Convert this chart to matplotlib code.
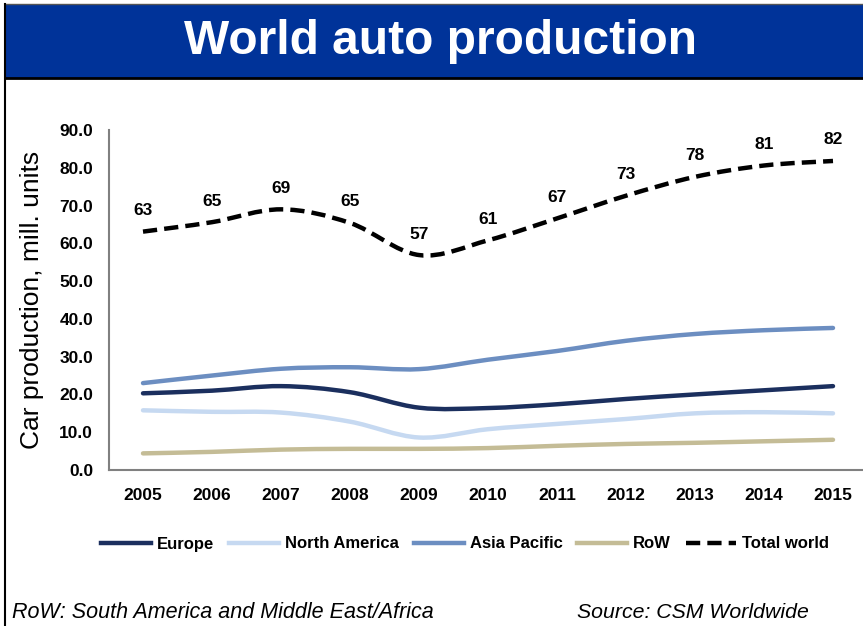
import matplotlib
matplotlib.use("Agg")
import matplotlib.pyplot as plt
from matplotlib.path import Path
from matplotlib.patches import PathPatch, Rectangle
from matplotlib.lines import Line2D

plt.rcParams['font.family'] = ['Liberation Sans', 'DejaVu Sans']

years = ["2005", "2006", "2007", "2008", "2009", "2010", "2011", "2012", "2013", "2014", "2015"]
europe = [20.3, 21.0, 22.2, 20.6, 16.5, 16.4, 17.4, 18.8, 20.0, 21.1, 22.2]
north_america = [15.8, 15.4, 15.2, 12.8, 8.6, 10.8, 12.2, 13.5, 15.0, 15.3, 15.0]
asia_pacific = [23.0, 25.0, 26.8, 27.2, 26.7, 29.2, 31.5, 34.2, 36.0, 37.0, 37.6]
row = [4.4, 4.8, 5.4, 5.6, 5.6, 5.8, 6.4, 6.9, 7.2, 7.6, 8.0]
total = [63.1, 65.6, 69.0, 65.4, 56.9, 60.8, 66.6, 72.6, 77.6, 80.6, 81.8]
total_labels = ["63", "65", "69", "65", "57", "61", "67", "73", "78", "81", "82"]

series = [
    ("Europe", europe, "#1B2F5E", "solid"),
    ("North America", north_america, "#C6D9F1", "solid"),
    ("Asia Pacific", asia_pacific, "#6C8EC1", "solid"),
    ("RoW", row, "#C4BC96", "solid"),
    ("Total world", total, "#000000", (0, (3.2, 1.6))),
]

W, H = 863, 626
fig = plt.figure(figsize=(W / 100, H / 100), dpi=100)

def fx(px):
    return px / W

def fy(py):
    return 1 - py / H

# title bar
fig.patches.append(Rectangle((fx(5), fy(78)), 1 - fx(5), fy(4) - fy(78), transform=fig.transFigure,
                             facecolor="#003399", edgecolor="none", zorder=0))
fig.add_artist(Line2D([fx(5), 1], [fy(78), fy(78)], transform=fig.transFigure, color="black", lw=2))
fig.add_artist(Line2D([fx(5), 1], [fy(4), fy(4)], transform=fig.transFigure, color="#555555", lw=1))
fig.add_artist(Line2D([fx(5), fx(5)], [fy(4), 0], transform=fig.transFigure, color="black", lw=1.5))
fig.text(fx(441), fy(41), "World auto production", ha="center", va="center", color="white",
         fontsize=34.5, fontweight="bold")

# axes
ax = fig.add_axes([fx(108.5), fy(470), (867.5 - 108.5) / W, (470 - 130) / H])
ax.set_xlim(-0.5, len(years) - 0.5)
ax.set_ylim(0, 90)
ax.set_yticks([0, 10, 20, 30, 40, 50, 60, 70, 80, 90])
ax.set_yticklabels([f"{v:.1f}" for v in ax.get_yticks()], fontweight="bold", fontsize=12.5)
ax.set_xticks(range(len(years)))
ax.set_xticklabels(years, fontweight="bold", fontsize=12.5)
ax.tick_params(axis="y", length=0, pad=11)
ax.tick_params(axis="x", length=0, pad=13)
for s in ["top", "right"]:
    ax.spines[s].set_visible(False)
for s in ["left", "bottom"]:
    ax.spines[s].set_color("#808080")
    ax.spines[s].set_linewidth(1.5)
ax.set_ylabel("Car production, mill. units", fontsize=19)
ax.yaxis.set_label_coords(-0.085, 0.5)


def smooth_path(xs, ys):
    n = len(xs)
    verts = [(xs[0], ys[0])]
    codes = [Path.MOVETO]
    for i in range(n - 1):
        p0 = (xs[max(i - 1, 0)], ys[max(i - 1, 0)])
        p1 = (xs[i], ys[i])
        p2 = (xs[i + 1], ys[i + 1])
        p3 = (xs[min(i + 2, n - 1)], ys[min(i + 2, n - 1)])
        c1 = (p1[0] + (p2[0] - p0[0]) / 6, p1[1] + (p2[1] - p0[1]) / 6)
        c2 = (p2[0] - (p3[0] - p1[0]) / 6, p2[1] - (p3[1] - p1[1]) / 6)
        verts += [c1, c2, p2]
        codes += [Path.CURVE4] * 3
    return Path(verts, codes)

xs = list(range(len(years)))
handles = []
for name, vals, color, ls in series:
    patch = PathPatch(smooth_path(xs, vals), fill=False, edgecolor=color, lw=3.2,
                      linestyle=ls, capstyle="round" if ls == "solid" else "butt",
                      joinstyle="round", zorder=3)
    ax.add_patch(patch)
    handles.append(Line2D([], [], color=color, lw=3.2, linestyle=ls, label=name))

for x, v, lab in zip(xs, total, total_labels):
    ax.annotate(lab, (x, v), xytext=(0, 21), textcoords="offset pixels", ha="center", va="center",
                fontsize=12.5, fontweight="bold")

leg = fig.legend(handles=handles, loc="center", bbox_to_anchor=(fx(465), fy(544)), ncol=5,
                 frameon=False, prop={"weight": "bold", "size": 12}, handlelength=3.0,
                 handletextpad=0.35, columnspacing=0.9)

fig.text(fx(12), fy(612), "RoW: South America and Middle East/Africa", ha="left", va="center",
         fontsize=15.5, style="italic")
fig.text(fx(577), fy(612), "Source: CSM Worldwide", ha="left", va="center",
         fontsize=15.3, style="italic")

fig.savefig("out.png", dpi=100)
